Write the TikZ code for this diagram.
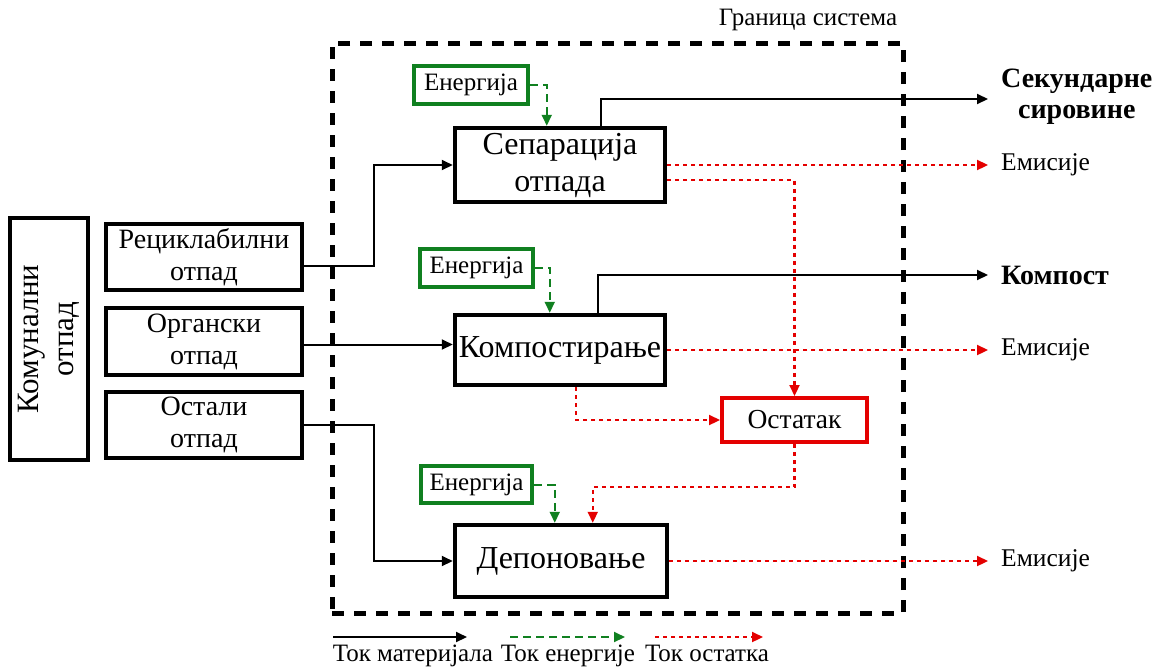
\documentclass[tikz,border=0pt]{standalone}
\usepackage{fontspec}
\setmainfont{Liberation Serif}
\usetikzlibrary{arrows.meta,calc}
\definecolor{egreen}{RGB}{16,128,32}
\definecolor{rred}{RGB}{228,0,0}
\begin{document}
\begin{tikzpicture}[x=1pt,y=-1pt,
  box/.style={draw, line width=4pt, inner sep=0pt},
  srcbox/.style={box, minimum width=196pt, minimum height=66pt, align=center, font=\fontsize{28}{32}\selectfont},
  procbox/.style={box, line width=4.5pt, minimum width=210pt, align=center, font=\fontsize{32}{37}\selectfont},
  enbox/.style={box, draw=egreen, minimum width=113pt, minimum height=38pt, font=\fontsize{25}{28}\selectfont},
  tip/.style={-{Triangle[length=11pt,width=10pt]}},
  mat/.style={line width=2pt, tip},
  enr/.style={draw=egreen, line width=2pt, dash pattern=on 8pt off 5pt, tip},
  res/.style={draw=rred, line width=2.2pt, dash pattern=on 4pt off 4pt, tip},
  outtext/.style={anchor=west, inner xsep=13pt, inner ysep=0pt, align=center, font=\fontsize{25.5}{28}\selectfont},
  legtext/.style={font=\fontsize{25}{28}\selectfont, inner sep=0pt}
]
\useasboundingbox (0,0) rectangle (1161,667);

% system boundary
\node[draw, line width=5pt, dash pattern=on 12pt off 10pt, minimum width=571pt, minimum height=570pt, inner sep=0pt] (bnd) at (617.5,328) {};
\node[legtext] (bndlbl) at (808,20) {Граница система};

% source boxes
\node[box, minimum width=78pt, minimum height=242pt] (kom) at (49,339) {};
\node[rotate=90, align=center, inner sep=0pt, font=\fontsize{31}{35}\selectfont] (komt) at (kom) {Комунални\\отпад};
\node[srcbox] (rec) at (204,257) {Рециклабилни\\отпад};
\node[srcbox, minimum height=67pt] (org) at (204,341.5) {Органски\\отпад};
\node[srcbox] (ost) at (204,425) {Остали\\отпад};

% process boxes
\node[procbox, minimum height=74pt] (sep) at (560,165) {Сепарација\\отпада};
\node[procbox, minimum height=70pt] (komp) at (560,350) {Компостирање};
\node[procbox, minimum width=212pt, minimum height=72pt] (dep) at (561,561) {Депоновање};
\node[box, draw=rred, minimum width=145pt, minimum height=44pt, font=\fontsize{27.5}{30}\selectfont] (rest) at (794.5,420) {Остатак};

% energy boxes
\node[enbox, minimum width=114pt] (en1) at (471,85) {Енергија};
\node[enbox] (en2) at (476.5,268) {Енергија};
\node[enbox, minimum width=111pt, minimum height=37pt] (en3) at (476.5,484.5) {Енергија};

% outputs
\node[outtext, font=\bfseries\fontsize{28}{31}\selectfont] (sek) at (988,97) {Секундарне\\сировине};
\node[outtext] (em1) at (988,165) {Емисије};
\node[outtext, font=\bfseries\fontsize{28}{31}\selectfont] (kpst) at (988,275) {Компост};
\node[outtext] (em2) at (988,350) {Емисије};
\node[outtext] (em3) at (988,561) {Емисије};

% material flows
\coordinate (orgout) at ($(org.east)+(0,3)$);
\draw[mat] ($(rec.east)+(0,9)$) -- ++(70,0) |- (sep.west);
\draw[mat] (orgout) -- (orgout -| komp.west);
\draw[mat] (ost.east) -- ++(70,0) |- (dep.west);
\draw[mat] ($(sep.north west)+(148,0)$) |- ($(sek.west)+(0,2)$);
\draw[mat] ($(komp.north west)+(145,0)$) |- (kpst.west);

% energy flows
\draw[enr] (en1.east) -| ($(sep.north west)+(94,0)$);
\draw[enr] (en2.east) -| ($(komp.north west)+(97,0)$);
\draw[enr] (en3.east) -| ($(dep.north west)+(102,0)$);

% residue flows
\draw[res] (sep.east) -- (em1.west);
\draw[res] ($(sep.east)+(0,15)$) -| (rest.north);
\draw[res] (komp.east) -- (em2.west);
\draw[res] ($(komp.south west)+(123,0)$) |- (rest.west);
\draw[res] (rest.south) -- ++(0,43) -| ($(dep.north west)+(140,0)$);
\draw[res] (dep.east) -- (em3.west);

% legend
\coordinate (l1a) at (333,637); \coordinate (l1b) at (467,637);
\coordinate (l2a) at (510,637); \coordinate (l2b) at (625,637);
\coordinate (l3a) at (655,637); \coordinate (l3b) at (763,637);
\draw[mat] (l1a) -- (l1b);
\draw[enr] (l2a) -- (l2b);
\draw[res] (l3a) -- (l3b);
\node[legtext, anchor=base] (lt1) at (413,661) {Ток материјала};
\node[legtext, anchor=base] (lt2) at (568,661) {Ток енергије};
\node[legtext, anchor=base] (lt3) at (707,661) {Ток остатка};
\end{tikzpicture}
\end{document}
